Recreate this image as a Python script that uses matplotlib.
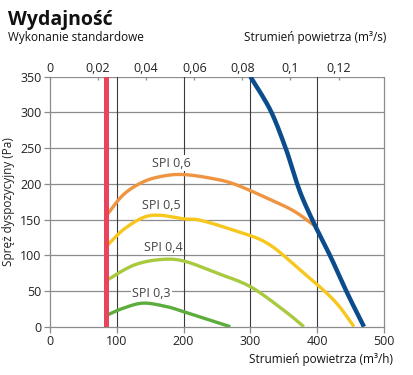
import matplotlib
matplotlib.use("Agg")
import matplotlib.pyplot as plt
import numpy as np

plt.rcParams['font.family'] = ['Open Sans', 'DejaVu Sans']

# Data (x in m3/h, y in Pa)
spi06_x = [85, 110, 140, 170, 200, 240, 275, 325, 365, 395]
spi06_y = [156, 185, 203, 211, 213, 208, 200, 180, 162, 142]
spi05_x = [85, 110, 140, 165, 200, 225, 275, 325, 375, 425, 455]
spi05_y = [113, 136, 153, 156, 151, 149, 135, 117, 79, 37, 0]
spi04_x = [85, 125, 165, 200, 250, 300, 350, 380]
spi04_y = [65, 86, 94, 92, 75, 56, 23, 0]
spi03_x = [85, 110, 140, 175, 200, 240, 270]
spi03_y = [16, 26, 33, 28, 21, 9, 0]
fan_x = [300, 330, 352, 360, 375, 395, 420, 445, 470]
fan_y = [350, 303, 252, 229, 187, 145, 98, 47, 0]
min_flow = 84

x_ticks = [0, 100, 200, 300, 400, 500]
y_ticks = [0, 50, 100, 150, 200, 250, 300, 350]
top_ticks = [0, 0.02, 0.04, 0.06, 0.08, 0.1, 0.12]
top_labels = ['0', '0,02', '0,04', '0,06', '0,08', '0,1', '0,12']

labels = [('SPI 0,6', 182, 229), ('SPI 0,5', 167, 170), ('SPI 0,4', 170, 111), ('SPI 0,3', 152, 47)]

fig = plt.figure(figsize=(4.13, 3.75), dpi=100)
ax = fig.add_axes([50/413, 1-326.7/375, 334/413, 250/375])
ax.set_xlim(0, 500)
ax.set_ylim(0, 350)

for y in y_ticks[1:]:
    ax.axhline(y, color='#8c8c8c', lw=0.9, zorder=1)
for x in x_ticks[1:-1]:
    ax.axvline(x, color='#3a3a3a', lw=0.8, zorder=1)

def smooth(xs, ys):
    xs = np.array(xs, float); ys = np.array(ys, float)
    out_x, out_y = [], []
    n = len(xs)
    for i in range(n - 1):
        p0 = i - 1 if i > 0 else i
        p3 = i + 2 if i + 2 < n else i + 1
        for s in np.linspace(0, 1, 20, endpoint=False):
            s2, s3 = s*s, s*s*s
            def cr(a):
                return 0.5*((2*a[i]) + (-a[p0]+a[i+1])*s + (2*a[p0]-5*a[i]+4*a[i+1]-a[p3])*s2 + (-a[p0]+3*a[i]-3*a[i+1]+a[p3])*s3)
            out_x.append(cr(xs)); out_y.append(cr(ys))
    out_x.append(xs[-1]); out_y.append(ys[-1])
    return out_x, out_y

ax.plot(*smooth(spi06_x, spi06_y), color='#ef9440', lw=2.4, zorder=3, solid_capstyle='butt')
ax.plot(*smooth(spi05_x, spi05_y), color='#f7c71e', lw=2.4, zorder=3, solid_capstyle='butt')
ax.plot(*smooth(spi04_x, spi04_y), color='#a9c93e', lw=2.4, zorder=3, solid_capstyle='butt')
ax.plot(*smooth(spi03_x, spi03_y), color='#5cad3c', lw=2.4, zorder=3, solid_capstyle='butt')
ax.plot(*smooth(fan_x, fan_y), color='#0b4c8c', lw=3.2, zorder=4, solid_capstyle='butt')
ax.axvline(min_flow, color='#e8455c', lw=3.6, zorder=5)

for txt, x, y in labels:
    ax.text(x, y, txt, ha='center', va='center', fontsize=9, color='#444444', zorder=2,
            bbox=dict(facecolor='white', edgecolor='none', pad=1.0))

for s in ['left', 'right', 'bottom']:
    ax.spines[s].set_color('#8c8c8c')
    ax.spines[s].set_linewidth(0.9)
ax.spines['top'].set_visible(False)

ax.set_xticks(x_ticks)
ax.set_yticks(y_ticks)
ax.tick_params(axis='both', colors='#8c8c8c', labelcolor='#222222', labelsize=9, length=4, width=0.9, pad=2)

top = ax.secondary_xaxis('top', functions=(lambda v: v/3600.0, lambda v: v*3600.0))
top.set_xticks(top_ticks)
top.set_xticklabels(top_labels)
top.tick_params(colors='#8c8c8c', labelcolor='#222222', labelsize=9, length=2, width=0.9, pad=1, direction='in')
for sp in top.spines.values():
    sp.set_visible(False)

ax.set_ylabel('Spręż dyspozycyjny (Pa)', fontsize=8.5, color='#222222', labelpad=4)

fig.text(8/413, 1-20/375, 'Wydajność', fontsize=14, fontweight='bold', color='#111111', va='center', ha='left')
fig.text(8/413, 1-38/375, 'Wykonanie standardowe', fontsize=8.5, color='#111111', va='center', ha='left')
fig.text(386/413, 1-38/375, 'Strumień powietrza (m³/s)', fontsize=8.5, color='#111111', va='center', ha='right')
fig.text(393/413, 1-359/375, 'Strumień powietrza (m³/h)', fontsize=8.5, color='#111111', va='center', ha='right')

fig.savefig('out.png', dpi=100)
